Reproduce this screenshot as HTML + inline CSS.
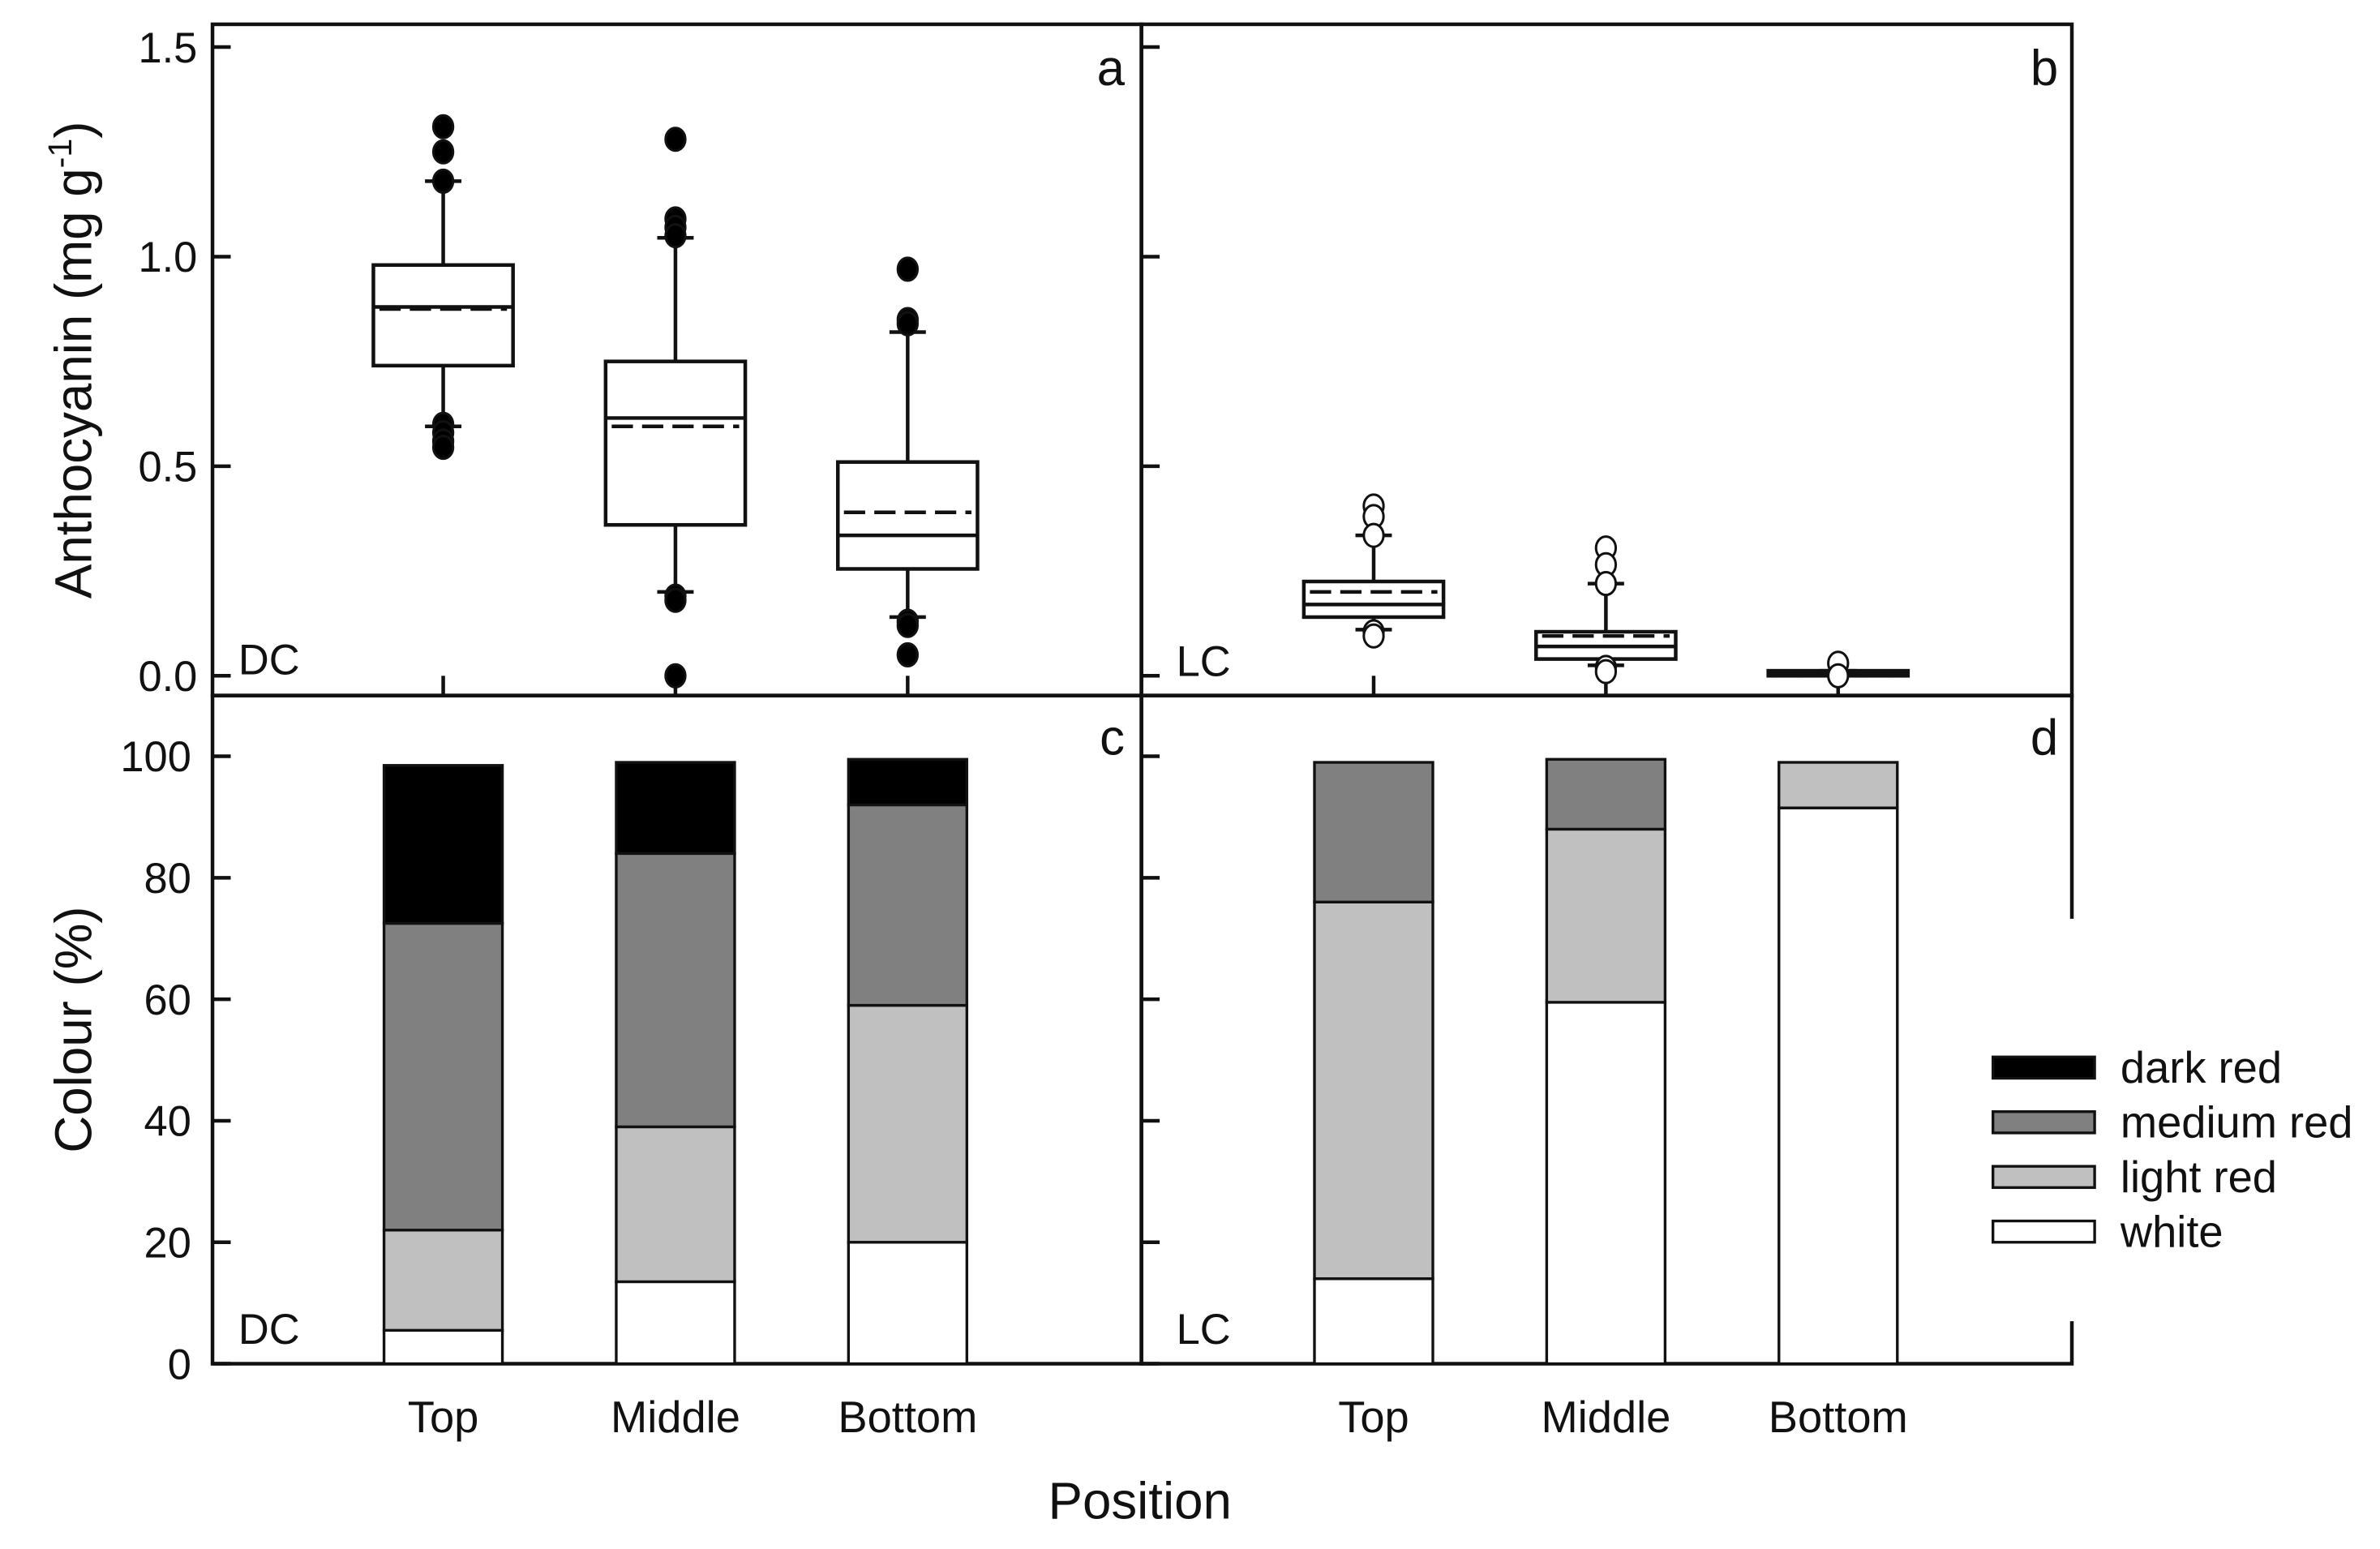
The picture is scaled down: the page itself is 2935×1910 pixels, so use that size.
<!DOCTYPE html>
<html><head><meta charset="utf-8"><style>
html,body{margin:0;padding:0;background:#fff;}
svg{display:block;}
text{font-family:"Liberation Sans",sans-serif;fill:#111;}
</style></head><body>
<svg id="chart" width="2935" height="1910" viewBox="0 0 1568 1020" preserveAspectRatio="none" xmlns="http://www.w3.org/2000/svg"></svg>
<script>
// ---- data ----
const positions = ["Top","Middle","Bottom"];
const boxQ1 = {DC:[0.74,0.36,0.255], LC:[0.14,0.04,0.0]};
const boxQ3 = {DC:[0.98,0.75,0.51], LC:[0.225,0.105,0.012]};
const boxMedian = {DC:[0.88,0.615,0.335], LC:[0.17,0.07,0.005]};
const boxMean = {DC:[0.875,0.595,0.39], LC:[0.2,0.095,0.006]};
const whiskLow = {DC:[0.595,0.2,0.14], LC:[0.11,0.025,0.0]};
const whiskHigh = {DC:[1.18,1.045,0.82], LC:[0.335,0.22,0.012]};
const outliersDC = [[1.31,1.25,1.18,0.6,0.58,0.56,0.545],[1.28,1.09,1.07,1.05,0.19,0.18,0.0],[0.97,0.85,0.84,0.13,0.12,0.05]];
const outliersLC = [[0.405,0.38,0.335,0.105,0.095],[0.305,0.265,0.22,0.02,0.01],[0.03,0.0]];
const categories = ["white","light red","medium red","dark red"];
const colourDC_white = [5.5,13.5,20];
const colourDC_light = [16.5,25.5,39];
const colourDC_medium = [50.5,45,33];
const colourDC_dark = [26,15,7.5];
const colourLC_white = [14,59.5,91.5];
const colourLC_light = [62,28.5,7.5];
const colourLC_medium = [23,11.5,0];
const colourLC_dark = [0,0,0];
const yTicksTop = ["0.0","0.5","1.0","1.5"];
const yTicksBottom = ["0","20","40","60","80","100"];
const fills = ["#ffffff","#c0c0c0","#808080","#000000"];

// ---- helpers ----
const NS="http://www.w3.org/2000/svg";
const svg=document.getElementById('chart');
function el(tag,attrs,parent){const e=document.createElementNS(NS,tag);for(const k in attrs)e.setAttribute(k,attrs[k]);(parent||svg).appendChild(e);return e;}
const yTop = v => 445 - v*276;
const yBot = v => 898 - v*4;
const xL = i => 292 + i*153;
const xR = i => 905 + i*153;
const SW = 2.4;

// ---- frames ----
const frames=[["panel-a",140,16,612,442],["panel-b",752,16,613,442],["panel-c",140,458,612,440],["panel-d",752,458,613,440]];
frames.forEach(f=>{const r=el('rect',{x:f[1],y:f[2],width:f[3],height:f[4],fill:'none',stroke:'#111','stroke-width':SW});

});

// ---- ticks ----
yTicksTop.forEach(t=>{const y=yTop(parseFloat(t));
 el('line',{x1:140,x2:152,y1:y,y2:y,stroke:'#111','stroke-width':SW});
 el('line',{x1:752,x2:764,y1:y,y2:y,stroke:'#111','stroke-width':SW});
 const tx=el('text',{x:130,y:y+10,'text-anchor':'end','font-size':28});tx.textContent=t;
 
 });
yTicksBottom.forEach(t=>{const y=yBot(parseFloat(t));
 el('line',{x1:140,x2:152,y1:y,y2:y,stroke:'#111','stroke-width':SW});
 el('line',{x1:752,x2:764,y1:y,y2:y,stroke:'#111','stroke-width':SW});
 const tx=el('text',{x:126,y:y+10,'text-anchor':'end','font-size':28});tx.textContent=t;
 
 });
positions.forEach((p,i)=>{[xL(i),xR(i)].forEach(x=>{
 el('line',{x1:x,x2:x,y1:445,y2:458,stroke:'#111','stroke-width':SW});
 const tx=el('text',{x:x,y:943,'text-anchor':'middle','font-size':29});tx.textContent=p;
 
 });});

// ---- box plots ----
function drawBox(key,i,x,outs,filled){
 const g=el('g',{});
 
 
 const w=46;
 const q1=yTop(boxQ1[key][i]),q3=yTop(boxQ3[key][i]);
 el('line',{x1:x,x2:x,y1:yTop(whiskLow[key][i]),y2:q1,stroke:'#111','stroke-width':SW},g);
 el('line',{x1:x,x2:x,y1:yTop(whiskHigh[key][i]),y2:q3,stroke:'#111','stroke-width':SW},g);
 [whiskLow[key][i],whiskHigh[key][i]].forEach(v=>el('line',{x1:x-12,x2:x+12,y1:yTop(v),y2:yTop(v),stroke:'#111','stroke-width':SW},g));
 el('rect',{x:x-w,y:q3,width:2*w,height:Math.max(q1-q3,2),fill:'#fff',stroke:'#111','stroke-width':SW},g);
 el('line',{x1:x-w,x2:x+w,y1:yTop(boxMedian[key][i]),y2:yTop(boxMedian[key][i]),stroke:'#111','stroke-width':SW},g);
 el('line',{x1:x-w+4,x2:x+w-4,y1:yTop(boxMean[key][i]),y2:yTop(boxMean[key][i]),stroke:'#111','stroke-width':SW,'stroke-dasharray':'14,6'},g);
 outs.forEach(v=>{const c=el('ellipse',{cx:x,cy:yTop(v),rx:6.5,ry:7.5,fill:filled?'#000':'#fff',stroke:'#111','stroke-width':1.6},g);
 
 });
}
positions.forEach((p,i)=>{drawBox('DC',i,xL(i),outliersDC[i],true);drawBox('LC',i,xR(i),outliersLC[i],false);});

// ---- stacked bars ----
function drawStack(name,i,x,segs){
 let cum=0;
 segs.forEach((v,k)=>{ if(v<=0) return;
  const r=el('rect',{x:x-39,y:yBot(cum+v),width:78,height:yBot(cum)-yBot(cum+v),fill:fills[k],stroke:'#111','stroke-width':1.8});
  
  
  cum+=v;});
}
positions.forEach((p,i)=>{
 drawStack('dc',i,xL(i),[colourDC_white[i],colourDC_light[i],colourDC_medium[i],colourDC_dark[i]]);
 drawStack('lc',i,xR(i),[colourLC_white[i],colourLC_light[i],colourLC_medium[i],colourLC_dark[i]]);
});

// ---- labels ----
function txt(s,attrs,name){const t=el('text',attrs);t.textContent=s;
 
 return t;}
txt('a',{x:741,y:56,'text-anchor':'end','font-size':33},'panel-label-a');
txt('b',{x:1356,y:56,'text-anchor':'end','font-size':33},'panel-label-b');
txt('c',{x:741,y:497,'text-anchor':'end','font-size':33},'panel-label-c');
txt('d',{x:1356,y:497,'text-anchor':'end','font-size':33},'panel-label-d');
txt('DC',{x:157,y:444,'font-size':28},'dc-label-top');
txt('LC',{x:775,y:445,'font-size':28},'lc-label-top');
txt('DC',{x:157,y:885,'font-size':28},'dc-label-bottom');
txt('LC',{x:775,y:885,'font-size':28},'lc-label-bottom');
const yt1=el('text',{x:0,y:0,'text-anchor':'middle','font-size':34,transform:'translate(60,237) rotate(-90)'});
yt1.innerHTML='Anthocyanin (mg g<tspan dy="-13" font-size="22">-1</tspan><tspan dy="13">)</tspan>';


txt('Colour (%)',{x:0,y:0,'text-anchor':'middle','font-size':34,transform:'translate(60,678) rotate(-90)'},'y-axis-title-colour');
txt('Position',{x:751,y:1000,'text-anchor':'middle','font-size':34},'x-axis-title');

// ---- legend ----
const lg=el('g',{});


el('rect',{x:1300,y:605,width:268,height:265,fill:'#fff'},lg);
const legendOrder=[3,2,1,0];
legendOrder.forEach((k,j)=>{const y=703+j*36;
 const r=el('rect',{x:1313,y:y-7,width:67,height:14,fill:fills[k],stroke:'#111','stroke-width':1.8},lg);
 
 
 const t=el('text',{x:1397,y:y+10,'font-size':29},lg);t.textContent=categories[k];
 
 });
</script>
</body></html>
